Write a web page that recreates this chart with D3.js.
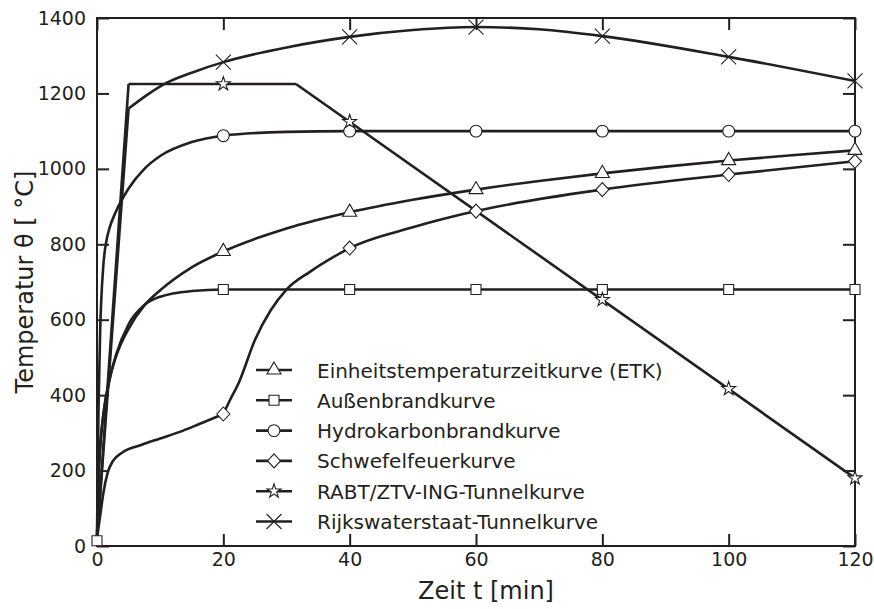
<!DOCTYPE html>
<html>
<head>
<meta charset="utf-8">
<script src="https://cdn.jsdelivr.net/npm/d3@7"></script>
<style>
  body { margin: 0; background: #fff; }
  text { font-family: "DejaVu Sans", sans-serif; fill: #231f20; }
</style>
</head>
<body>
<div id="chart"></div>
<script>
const w = 874;
const h = 609;
const margin = { top: 18, right: 19, bottom: 63, left: 97 };

// time axis ticks and temperature axis ticks
const xTicks = [0, 20, 40, 60, 80, 100, 120];
const yTicks = [0, 200, 400, 600, 800, 1000, 1200, 1400];

// Einheitstemperaturzeitkurve (ETK)
const etkT = [0, 0.25, 0.5, 1, 2, 3, 5, 7.5, 10, 15, 20, 30, 40, 50, 60, 70, 80, 90, 100, 110, 120];
const etkV = [20, 185, 261, 349, 444, 502, 576, 638, 678, 739, 781, 842, 885, 918, 945, 968, 988, 1006, 1022, 1036, 1049];
const etkMarkT = [20, 40, 60, 80, 100, 120];
const etkMarkV = [781, 885, 945, 988, 1022, 1049];

// Außenbrandkurve
const ausT = [0, 0.25, 0.5, 1, 2, 3, 5, 7.5, 10, 15, 20, 40, 60, 80, 100, 120];
const ausV = [20, 182, 263, 346, 441, 506, 588, 639, 661, 676, 680, 680, 680, 680, 680, 680];
const ausMarkT = [0, 20, 40, 60, 80, 100, 120];
const ausMarkV = [14, 680, 680, 680, 680, 680, 680];

// Hydrokarbonbrandkurve
const hcT = [0, 0.1, 0.25, 0.5, 1, 1.5, 2, 3, 5, 7.5, 10, 15, 20, 30, 40, 60, 80, 100, 120];
const hcV = [20, 187, 373, 569, 743, 810, 844, 887, 948, 1000, 1034, 1071, 1088, 1098, 1100, 1100, 1100, 1100, 1100];
const hcMarkT = [20, 40, 60, 80, 100, 120];
const hcMarkV = [1088, 1100, 1100, 1100, 1100, 1100];

// Schwefelfeuerkurve
const swT = [0, 0.5, 1, 1.7, 2.5, 4, 7, 10, 13, 16, 20, 21, 22.5, 25, 27.5, 30, 33.7, 37.4, 40, 50, 60, 80, 100, 120];
const swV = [20, 80, 140, 195, 225, 248, 268, 285, 302, 322, 350, 385, 435, 546, 625, 680, 727, 766, 790, 845, 888, 945, 985, 1020];
const swKinks = [20];
const swMarkT = [20, 40, 60, 80, 100, 120];
const swMarkV = [350, 790, 888, 945, 985, 1020];

// RABT/ZTV-ING-Tunnelkurve
const rabtT = [0, 5, 31.5, 120];
const rabtV = [20, 1225, 1225, 180];
const rabtKinks = [5, 31.5];
const rabtMarkT = [20, 40, 80, 100, 120];
const rabtMarkV = [1225, 1125, 653, 417, 180];

// Rijkswaterstaat-Tunnelkurve
const rwsT = [0, 5, 8, 11, 15, 20, 30, 40, 50, 60, 70, 80, 100, 120];
const rwsV = [20, 1160, 1197, 1228, 1255, 1283, 1322, 1350, 1368, 1376, 1370, 1352, 1297, 1233];
const rwsKinks = [5];
const rwsMarkT = [20, 40, 60, 80, 100, 120];
const rwsMarkV = [1283, 1350, 1376, 1352, 1297, 1233];

const legendLabels = [
    "Einheitstemperaturzeitkurve (ETK)",
    "Außenbrandkurve",
    "Hydrokarbonbrandkurve",
    "Schwefelfeuerkurve",
    "RABT/ZTV-ING-Tunnelkurve",
    "Rijkswaterstaat-Tunnelkurve"
];

const series = [
    { t: etkT, v: etkV, kinks: [], mt: etkMarkT, mv: etkMarkV, sym: "triangle" },
    { t: ausT, v: ausV, kinks: [], mt: ausMarkT, mv: ausMarkV, sym: "square" },
    { t: hcT, v: hcV, kinks: [], mt: hcMarkT, mv: hcMarkV, sym: "circle" },
    { t: swT, v: swV, kinks: swKinks, mt: swMarkT, mv: swMarkV, sym: "diamond" },
    { t: rabtT, v: rabtV, kinks: rabtKinks, mt: rabtMarkT, mv: rabtMarkV, sym: "star" },
    { t: rwsT, v: rwsV, kinks: rwsKinks, mt: rwsMarkT, mv: rwsMarkV, sym: "cross" }
];

const ink = "#231f20";

const svg = d3.select("#chart").append("svg")
    .attr("width", w)
    .attr("height", h);

const x = d3.scaleLinear().domain([0, 120]).range([margin.left, w - margin.right]);
const y = d3.scaleLinear().domain([0, 1400]).range([h - margin.bottom, margin.top]);

// axes with inward ticks on all four sides
svg.append("g")
    .attr("transform", `translate(0,${y(0)})`)
    .call(d3.axisBottom(x).tickValues(xTicks).tickSizeInner(-12).tickSizeOuter(0).tickPadding(7).tickFormat(d3.format("d")))
    .call(g => g.select(".domain").remove())
    .call(g => g.selectAll("text").style("font-size", "19px"));

svg.append("g")
    .attr("transform", `translate(${x(0)},0)`)
    .call(d3.axisLeft(y).tickValues(yTicks).tickSizeInner(-12).tickSizeOuter(0).tickPadding(11).tickFormat(d3.format("d")))
    .call(g => g.select(".domain").remove())
    .call(g => g.selectAll("text").style("font-size", "19px"));

svg.append("g")
    .attr("transform", `translate(0,${y(1400)})`)
    .call(d3.axisTop(x).tickValues(xTicks).tickSizeInner(-12).tickSizeOuter(0).tickFormat(""))
    .call(g => g.select(".domain").remove());

svg.append("g")
    .attr("transform", `translate(${x(120)},0)`)
    .call(d3.axisRight(y).tickValues(yTicks).tickSizeInner(-12).tickSizeOuter(0).tickFormat(""))
    .call(g => g.select(".domain").remove());

svg.selectAll(".tick line").attr("stroke", ink).attr("stroke-width", 2);

svg.append("rect")
    .attr("x", x(0))
    .attr("y", y(1400))
    .attr("width", x(120) - x(0))
    .attr("height", y(0) - y(1400))
    .attr("fill", "none")
    .attr("stroke", ink)
    .attr("stroke-width", 2);

// axis titles
svg.append("text")
    .attr("transform", `translate(33,${(y(0) + y(1400)) / 2}) rotate(-90)`)
    .attr("text-anchor", "middle")
    .style("font-size", "24px")
    .text("Temperatur θ [ °C]");

svg.append("text")
    .attr("x", (x(0) + x(120)) / 2 + 10)
    .attr("y", 599)
    .attr("text-anchor", "middle")
    .style("font-size", "24px")
    .text("Zeit t [min]");

// split a series at its kinks, each piece is drawn smooth
const pieces = (s) => {
    const pts = s.t.map((t, i) => [t, s.v[i]]);
    const out = [];
    let cur = [];
    pts.forEach(p => {
        cur.push(p);
        if (s.kinks.includes(p[0])) {
            out.push(cur);
            cur = [p];
        }
    });
    if (cur.length > 1) out.push(cur);
    return out;
};

const line = d3.line()
    .x(d => x(d[0]))
    .y(d => y(d[1]))
    .curve(d3.curveMonotoneX);

const lines = svg.append("g");
series.forEach(s => {
    pieces(s).forEach(p => {
        lines.append("path")
            .attr("d", line(p))
            .attr("fill", "none")
            .attr("stroke", ink)
            .attr("stroke-width", 2.6)
            .attr("stroke-linejoin", "round");
    });
});

const markerPath = (sym) => {
    switch (sym) {
        case "triangle": return d3.symbol(d3.symbolTriangle, 85)();
        case "square": return d3.symbol(d3.symbolSquare, 100)();
        case "circle": return d3.symbol(d3.symbolCircle, 110)();
        case "diamond": return "M0,-7L6.5,0L0,7L-6.5,0Z";
        case "star": return d3.symbol(d3.symbolStar, 60)();
        case "cross": return "M-7.5,-7.5L7.5,7.5M-7.5,7.5L7.5,-7.5";
    }
};

const drawMarker = (g, sym, cx, cy) => {
    g.append("path")
        .attr("d", markerPath(sym))
        .attr("transform", `translate(${cx},${cy})`)
        .attr("fill", sym === "cross" ? "none" : "#fff")
        .attr("stroke", ink)
        .attr("stroke-width", 1.1);
};

const marks = svg.append("g");
series.forEach(s => {
    s.mt.forEach((t, i) => drawMarker(marks, s.sym, x(t), y(s.mv[i])));
});

// legend
const legend = svg.append("g");
legendLabels.forEach((label, i) => {
    const cy = 370 + i * 30.3;
    legend.append("line")
        .attr("x1", 256).attr("x2", 292)
        .attr("y1", cy).attr("y2", cy)
        .attr("stroke", ink)
        .attr("stroke-width", 2.6);
    drawMarker(legend, series[i].sym, 274, cy);
    legend.append("text")
        .attr("x", 317)
        .attr("y", cy + 7.5)
        .style("font-size", "20px")
        .text(label);
});
</script>
</body>
</html>
